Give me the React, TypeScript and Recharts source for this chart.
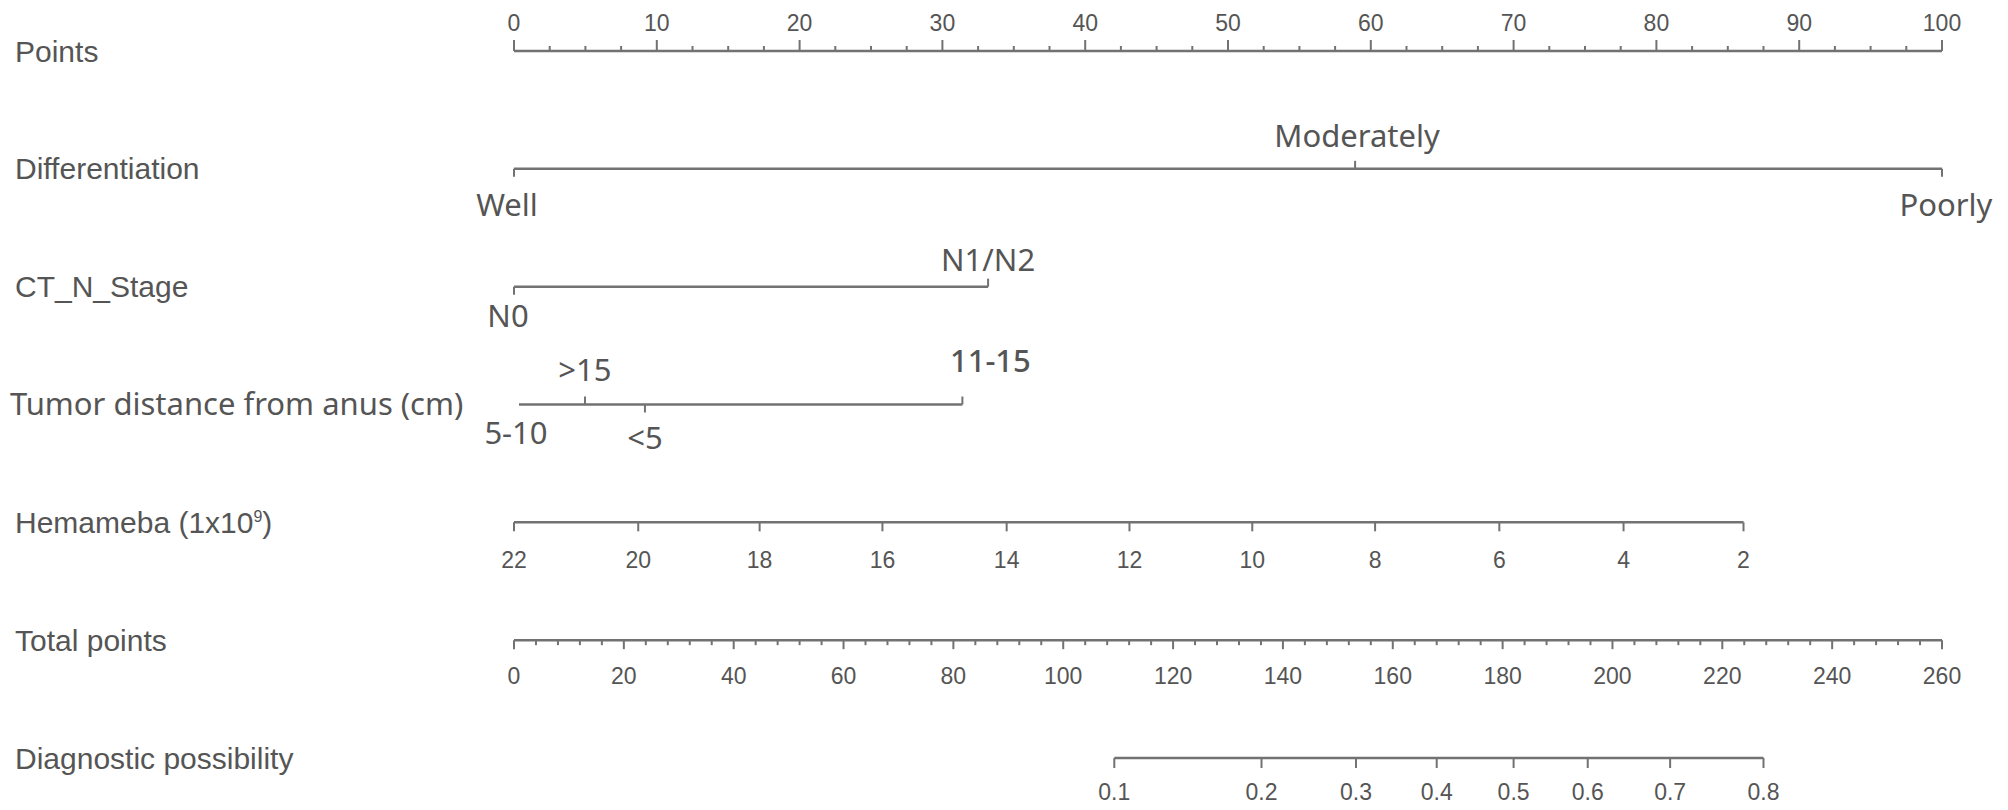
import React from 'react';
import { ScatterChart, Scatter, XAxis, YAxis } from 'recharts';

// ---------- data ----------
const rowNames = [
  'Points',
  'Differentiation',
  'CT_N_Stage',
  'Tumor distance from anus (cm)',
  'Hemameba',
  'Total points',
  'Diagnostic possibility',
];

const pointsMajor = [0, 10, 20, 30, 40, 50, 60, 70, 80, 90, 100];
const pointsMinor = [
  2.5, 5, 7.5, 12.5, 15, 17.5, 22.5, 25, 27.5, 32.5, 35, 37.5, 42.5, 45, 47.5,
  52.5, 55, 57.5, 62.5, 65, 67.5, 72.5, 75, 77.5, 82.5, 85, 87.5, 92.5, 95, 97.5,
];

const diffLevels = ['Well', 'Moderately', 'Poorly'];
const diffPoints = [0, 58.9, 100];

const ctLevels = ['N0', 'N1/N2'];
const ctPoints = [0, 33.2];

const tumorLevels = ['5-10', '>15', '<5', '11-15'];
const tumorPoints = [0.35, 4.97, 9.17, 31.4];

const hemaValues = [22, 20, 18, 16, 14, 12, 10, 8, 6, 4, 2];
const hemaPoints = [0, 8.7, 17.2, 25.8, 34.5, 43.1, 51.7, 60.3, 69.0, 77.7, 86.1];

const totalMajor = [0, 20, 40, 60, 80, 100, 120, 140, 160, 180, 200, 220, 240, 260];
const totalMinor = [
  4, 8, 12, 16, 24, 28, 32, 36, 44, 48, 52, 56, 64, 68, 72, 76, 84, 88, 92, 96,
  104, 108, 112, 116, 124, 128, 132, 136, 144, 148, 152, 156, 164, 168, 172, 176,
  184, 188, 192, 196, 204, 208, 212, 216, 224, 228, 232, 236, 244, 248, 252, 256,
];

const probValues = ['0.1', '0.2', '0.3', '0.4', '0.5', '0.6', '0.7', '0.8'];
const probTotalPoints = [109.3, 136.1, 153.3, 168.0, 182.0, 195.5, 210.5, 227.5];

// ---------- style ----------
const TEXT = '#555555';
const LINE = '#727272';
const R_FONT = '"Liberation Sans", Arial, sans-serif';
const CAT_FONT = '"Noto Sans", "Open Sans", sans-serif';

// label placement for the categorical levels: [dx, dy(baseline), tick direction]
const CAT_PLACE: Record<string, [number, number, number]> = {
  Well: [-7, 47, 1],
  Moderately: [2, -22, -1],
  Poorly: [4, 47, 1],
  N0: [-6, 40, 1],
  'N1/N2': [0, -16, -1],
  '5-10': [-3, 39, 0],
  '>15': [0, -24, -1],
  '<5': [0, 44, 1],
  '11-15': [28, -33, -1],
};

type Mark = {
  x: number;
  y: number;
  label: string;
  len: number;
  dir: number;
  dx: number;
  dy: number;
  font: string;
  size: number;
  weight?: number;
};

const sortX = (a: Mark, b: Mark) => a.x - b.x;

const pointsRow: Mark[] = [
  ...pointsMajor.map((v) => ({ x: v, y: 0, label: String(v), len: 11, dir: -1, dx: 0, dy: -20, font: R_FONT, size: 23 })),
  ...pointsMinor.map((v) => ({ x: v, y: 0, label: '', len: 5, dir: -1, dx: 0, dy: 0, font: R_FONT, size: 23 })),
].sort(sortX);

const catRow = (levels: string[], pts: number[], row: number): Mark[] =>
  levels
    .map((l, i) => {
      const [dx, dy, dir] = CAT_PLACE[l];
      return {
        x: pts[i],
        y: row,
        label: l,
        len: dir === 0 ? 0 : 8,
        dir: dir === 0 ? 1 : dir,
        dx,
        dy,
        font: CAT_FONT,
        size: 31,
        weight: l === '11-15' ? 500 : 400,
      };
    })
    .sort(sortX);

const diffRow = catRow(diffLevels, diffPoints, 1);
const ctRow = catRow(ctLevels, ctPoints, 2);
const tumorRow = catRow(tumorLevels, tumorPoints, 3);

const hemaRow: Mark[] = hemaValues
  .map((v, i) => ({ x: hemaPoints[i], y: 4, label: String(v), len: 9, dir: 1, dx: 0, dy: 46, font: R_FONT, size: 23 }))
  .sort(sortX);

const totalRow: Mark[] = [
  ...totalMajor.map((v) => ({ x: v, y: 5, label: String(v), len: 9, dir: 1, dx: 0, dy: 44, font: R_FONT, size: 23 })),
  ...totalMinor.map((v) => ({ x: v, y: 5, label: '', len: 5, dir: 1, dx: 0, dy: 0, font: R_FONT, size: 23 })),
].sort(sortX);

const probRow: Mark[] = probValues
  .map((v, i) => ({ x: probTotalPoints[i], y: 6, label: v, len: 10, dir: 1, dx: 0, dy: 42, font: R_FONT, size: 23 }))
  .sort(sortX);

// ---------- rendering ----------
const MarkShape = (props: any) => {
  const { cx, cy, payload } = props;
  if (cx == null || cy == null || !payload) return <g />;
  const p = payload as Mark;
  return (
    <g>
      {p.len > 0 && (
        <line x1={cx} y1={cy} x2={cx} y2={cy + p.dir * p.len} stroke={LINE} strokeWidth={2} />
      )}
      {p.label !== '' && (
        <text
          x={cx + p.dx}
          y={cy + p.dy}
          textAnchor="middle"
          fill={TEXT}
          fontFamily={p.font}
          fontSize={p.size}
          fontWeight={p.weight || 400}
        >
          {p.label}
        </text>
      )}
    </g>
  );
};

const RowTick = (props: any) => {
  const { y, payload } = props;
  const idx = payload.value as number;
  const name = rowNames[idx];
  if (name === undefined) return <g />;
  const base = y + 10.5;
  if (name === 'Tumor distance from anus (cm)') {
    return (
      <text x={10} y={base} fill={TEXT} fontFamily={CAT_FONT} fontSize={31} textAnchor="start">
        {name}
      </text>
    );
  }
  if (name === 'Hemameba') {
    return (
      <text x={15} y={base} fill={TEXT} fontFamily={R_FONT} fontSize={30} textAnchor="start">
        <tspan>Hemameba </tspan>
        <tspan>(1x10</tspan>
        <tspan dy={-11} fontSize={16}>9</tspan>
        <tspan dy={11}>)</tspan>
      </text>
    );
  }
  return (
    <text x={15} y={base} fill={TEXT} fontFamily={R_FONT} fontSize={30} textAnchor="start">
      {name}
    </text>
  );
};

const rows: { key: string; data: Mark[]; axis: string }[] = [
  { key: 'points', data: pointsRow, axis: 'pts' },
  { key: 'diff', data: diffRow, axis: 'pts' },
  { key: 'ct', data: ctRow, axis: 'pts' },
  { key: 'tumor', data: tumorRow, axis: 'pts' },
  { key: 'hema', data: hemaRow, axis: 'pts' },
  { key: 'total', data: totalRow, axis: 'tot' },
  { key: 'prob', data: probRow, axis: 'tot' },
];

export default function App() {
  return (
    <div style={{ position: 'absolute', left: 0, top: 0, width: 2008, height: 810, background: '#fff' }}>
      <ScatterChart width={2008} height={810} margin={{ top: 51, right: 66, bottom: 52, left: 0 }}>
        <XAxis xAxisId="pts" type="number" dataKey="x" domain={[0, 100]} hide />
        <XAxis xAxisId="tot" type="number" dataKey="x" domain={[0, 260]} hide />
        <YAxis
          type="number"
          dataKey="y"
          domain={[0, 6]}
          reversed
          ticks={[0, 1, 2, 3, 4, 5, 6]}
          interval={0}
          width={514}
          axisLine={false}
          tickLine={false}
          tick={<RowTick />}
        />
        {rows.map((r) => (
          <Scatter
            key={r.key}
            data={r.data}
            xAxisId={r.axis}
            fill={LINE}
            line={{ stroke: LINE, strokeWidth: 2.5 }}
            shape={<MarkShape />}
            isAnimationActive={false}
          />
        ))}
      </ScatterChart>
    </div>
  );
}
